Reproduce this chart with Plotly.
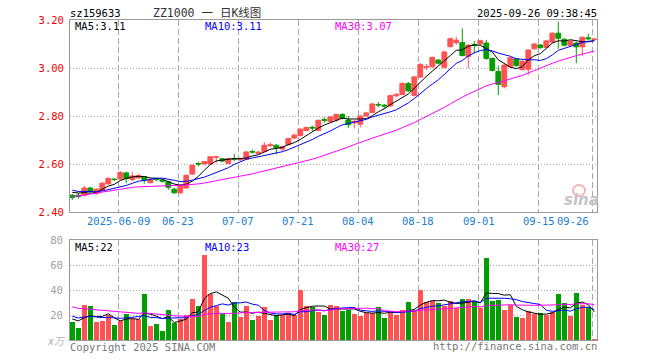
import plotly.graph_objects as go

# ---------------- data ----------------
dates = (
    ["2025-05-27", "2025-05-28", "2025-05-29", "2025-05-30",
     "2025-06-03", "2025-06-04", "2025-06-05", "2025-06-06"]
    + ["2025-06-%02d" % d for d in (9, 10, 11, 12, 13, 16, 17, 18, 19, 20, 23, 24, 25, 26, 27, 30)]
    + ["2025-07-%02d" % d for d in (1, 2, 3, 4, 7, 8, 9, 10, 11, 14, 15, 16, 17, 18,
                                    21, 22, 23, 24, 25, 28, 29, 30, 31)]
    + ["2025-08-%02d" % d for d in (1, 4, 5, 6, 7, 8, 11, 12, 13, 14, 15, 18, 19, 20, 21, 22,
                                    25, 26, 27, 28, 29)]
    + ["2025-09-%02d" % d for d in (1, 2, 3, 4, 5, 8, 9, 10, 11, 12, 15, 16, 17, 18, 19,
                                    22, 23, 24, 25, 26)]
)

open_ = [
    2.470, 2.470, 2.470, 2.500, 2.478, 2.490, 2.517, 2.537, 2.537, 2.563,
    2.535, 2.542, 2.547, 2.522, 2.538, 2.532, 2.526, 2.495, 2.480, 2.500,
    2.558, 2.602, 2.600, 2.600, 2.628, 2.622, 2.602, 2.622, 2.618, 2.620,
    2.652, 2.644, 2.651, 2.676, 2.678, 2.662, 2.680, 2.708, 2.718, 2.740,
    2.753, 2.740, 2.785, 2.777, 2.783, 2.806, 2.783, 2.772, 2.766, 2.800,
    2.815, 2.848, 2.845, 2.842, 2.884, 2.890, 2.935, 2.886, 2.962, 3.003,
    3.005, 3.033, 3.003, 3.089, 3.105, 3.106, 3.048, 3.098, 3.100, 3.104,
    3.040, 2.985, 2.922, 3.005, 3.038, 2.993, 2.995, 3.080, 3.096, 3.086,
    3.108, 3.145, 3.120, 3.095, 3.104, 3.088, 3.126, 3.118]

high = [
    2.475, 2.480, 2.510, 2.505, 2.500, 2.525, 2.545, 2.540, 2.570, 2.568,
    2.567, 2.560, 2.550, 2.540, 2.542, 2.536, 2.530, 2.500, 2.515, 2.556,
    2.598, 2.610, 2.612, 2.632, 2.632, 2.625, 2.626, 2.642, 2.627, 2.655,
    2.660, 2.656, 2.692, 2.690, 2.684, 2.676, 2.710, 2.728, 2.748, 2.756,
    2.760, 2.785, 2.795, 2.800, 2.810, 2.812, 2.800, 2.782, 2.803, 2.818,
    2.855, 2.858, 2.850, 2.888, 2.895, 2.940, 2.942, 2.966, 3.020, 3.017,
    3.048, 3.038, 3.072, 3.127, 3.130, 3.165, 3.100, 3.112, 3.118, 3.117,
    3.044, 3.010, 3.016, 3.046, 3.042, 3.032, 3.078, 3.104, 3.100, 3.116,
    3.148, 3.193, 3.124, 3.116, 3.110, 3.132, 3.143, 3.126]

low = [
    2.450, 2.455, 2.465, 2.480, 2.470, 2.488, 2.515, 2.530, 2.535, 2.520,
    2.530, 2.538, 2.518, 2.520, 2.528, 2.522, 2.492, 2.476, 2.475, 2.498,
    2.555, 2.590, 2.598, 2.598, 2.603, 2.608, 2.600, 2.612, 2.613, 2.618,
    2.643, 2.640, 2.650, 2.672, 2.640, 2.655, 2.678, 2.705, 2.715, 2.736,
    2.737, 2.738, 2.772, 2.774, 2.776, 2.786, 2.750, 2.748, 2.752, 2.797,
    2.812, 2.836, 2.830, 2.838, 2.878, 2.887, 2.900, 2.882, 2.958, 2.990,
    3.000, 3.015, 2.998, 3.085, 3.097, 3.048, 2.999, 3.061, 3.096, 3.034,
    2.986, 2.887, 2.915, 3.000, 3.005, 2.990, 2.970, 3.076, 3.080, 3.083,
    3.105, 3.080, 3.090, 3.090, 3.020, 3.050, 3.115, 3.116]

close = [
    2.460, 2.465, 2.500, 2.485, 2.495, 2.520, 2.540, 2.535, 2.565, 2.540,
    2.550, 2.552, 2.532, 2.535, 2.535, 2.529, 2.503, 2.480, 2.512, 2.553,
    2.595, 2.600, 2.610, 2.630, 2.630, 2.612, 2.623, 2.620, 2.623, 2.650,
    2.650, 2.649, 2.678, 2.680, 2.668, 2.672, 2.706, 2.720, 2.745, 2.752,
    2.750, 2.782, 2.782, 2.796, 2.806, 2.790, 2.764, 2.778, 2.800, 2.813,
    2.850, 2.846, 2.842, 2.885, 2.890, 2.936, 2.905, 2.963, 3.015, 3.006,
    3.044, 3.020, 3.067, 3.122, 3.116, 3.052, 3.095, 3.095, 3.114, 3.040,
    2.990, 2.932, 3.012, 3.043, 3.010, 3.028, 3.075, 3.100, 3.085, 3.113,
    3.145, 3.124, 3.095, 3.112, 3.088, 3.128, 3.122, 3.120]

# volume, 万手
volume = [
    14.1, 9.9, 28.4, 27.0, 14.1, 15.0, 20.3, 12.3, 15.0, 21.1,
    17.1, 17.1, 37.2, 10.9, 13.1, 7.5, 24.3, 14.0, 17.1, 20.3,
    33.2, 27.5, 67.7, 36.9, 27.0, 20.9, 14.8, 30.8, 18.2, 27.0,
    16.3, 19.0, 26.2, 15.8, 19.8, 20.1, 21.4, 20.1, 40.4, 27.0,
    26.2, 22.2, 20.1, 28.4, 27.0, 23.5, 24.3, 21.0, 19.0, 21.6,
    21.6, 26.7, 17.9, 23.5, 19.8, 24.3, 30.8, 24.3, 40.4, 30.8,
    31.4, 30.0, 27.0, 31.6, 26.0, 33.2, 33.2, 30.6, 25.7, 65.3,
    31.6, 32.4, 24.3, 27.8, 18.7, 17.9, 23.5, 20.6, 21.9, 19.8,
    22.4, 37.2, 30.0, 19.0, 38.0, 27.8, 26.7, 1.0]

# sessions before the visible window (needed for the moving averages)
prior_close = [2.34, 2.36, 2.37, 2.38, 2.39, 2.41, 2.42, 2.43,
               2.45, 2.47, 2.48, 2.49, 2.50, 2.49, 2.48, 2.49, 2.50, 2.49,
               2.52, 2.53, 2.52, 2.50, 2.49, 2.50, 2.49, 2.48, 2.49, 2.50, 2.48]
prior_volume = [45, 38, 32, 35, 28, 30, 26, 33, 29, 27, 31, 25, 28, 34, 26, 24, 30, 27,
                25, 33, 24, 20, 22, 19, 20.5, 18, 16, 19, 17.4]

ma_periods = [5, 10, 30]
price_ticks = [2.40, 2.60, 2.80, 3.00, 3.20]
volume_ticks = [20, 40, 60, 80]
tick_dates = ["2025-06-09", "2025-06-23", "2025-07-07", "2025-07-21", "2025-08-04",
              "2025-08-18", "2025-09-01", "2025-09-15", "2025-09-26"]
tick_labels = ["2025-06-09", "06-23", "07-07", "07-21", "08-04",
               "08-18", "09-01", "09-15", "09-26"]
volume_ma_labels = ["MA5:22", "MA10:23", "MA30:27"]

# ---------------- helpers ----------------
def moving_average(series, prior, n):
    full = list(prior) + list(series)
    off = len(prior)
    return [sum(full[off + i - n + 1: off + i + 1]) / n for i in range(len(series))]

RED = "#ff5252"
GREEN = "#009e00"
MA_COLORS = ["#000000", "#0000ff", "#ff00ff"]
GRID = "#a8a8a8"
MONO = "DejaVu Sans Mono"

ML, MR, MT, MB = 70, 63, 20, 20
W, H = 660 - ML - MR, 360 - MT - MB


def px(x):
    return (x - ML) / W


def py(y):
    return 1 - (y - MT) / H


xs = list(range(len(dates)))
fig = go.Figure()

fig.add_trace(go.Candlestick(
    x=xs, open=open_, high=high, low=low, close=close,
    increasing=dict(line=dict(color=RED, width=1), fillcolor=RED),
    decreasing=dict(line=dict(color=GREEN, width=1), fillcolor=GREEN),
    whiskerwidth=0, xaxis="x", yaxis="y", hoverinfo="skip", showlegend=False))

price_ma = [moving_average(close, prior_close, n) for n in ma_periods]
for vals, col in zip(price_ma, MA_COLORS):
    fig.add_trace(go.Scatter(x=xs, y=vals, mode="lines", line=dict(color=col, width=1),
                             xaxis="x", yaxis="y", hoverinfo="skip", showlegend=False))

bar_colors = [RED if c >= o else GREEN for o, c in zip(open_, close)]
fig.add_trace(go.Bar(x=xs, y=volume, width=0.82, marker=dict(color=bar_colors, line=dict(width=0)),
                     xaxis="x2", yaxis="y2", hoverinfo="skip", showlegend=False))

vol_ma = [moving_average(volume, prior_volume, n) for n in ma_periods]
for vals, col in zip(vol_ma, MA_COLORS):
    fig.add_trace(go.Scatter(x=xs, y=vals, mode="lines", line=dict(color=col, width=1),
                             xaxis="x2", yaxis="y2", hoverinfo="skip", showlegend=False))

tick_idx = [dates.index(d) for d in tick_dates]
grid_x = [i - 0.3 for i in tick_idx]
xr = [-0.38, len(dates) - 0.55]

common_x = dict(range=xr, showgrid=True, gridcolor=GRID, griddash="6px,3px", gridwidth=1,
                tickvals=grid_x, showticklabels=False, ticks="", zeroline=False,
                showline=True, mirror=True, linecolor="#9a9a9a", linewidth=1,
                fixedrange=True, automargin=False)

fig.update_layout(
    width=660, height=360, autosize=False,
    margin=dict(l=ML, r=MR, t=MT, b=MB, pad=0),
    paper_bgcolor="white", plot_bgcolor="white",
    boxgap=0.2, boxgroupgap=0.0, bargap=0,
    xaxis=dict(domain=[0, 1], anchor="y", rangeslider=dict(visible=False), **common_x),
    xaxis2=dict(domain=[0, 1], anchor="y2", matches="x", **common_x),
    yaxis=dict(domain=[py(212), 1], range=[2.40, 3.20], tickvals=price_ticks,
               ticktext=["%.2f" % v for v in price_ticks],
               tickfont=dict(family=MONO, size=10.5, color="#ee0000"),
               showgrid=True, gridcolor=GRID, griddash="1px,2px", zeroline=False,
               showline=True, mirror=True, linecolor="#9a9a9a", linewidth=1,
               ticks="", ticklabelstandoff=3, fixedrange=True, automargin=False),
    yaxis2=dict(domain=[0, py(240)], range=[0, 80], tickvals=volume_ticks,
                ticktext=[str(v) for v in volume_ticks],
                tickfont=dict(family=MONO, size=10.5, color="#a0a0a0"),
                showgrid=True, gridcolor=GRID, griddash="1px,2px", zeroline=False,
                showline=True, mirror=True, linecolor="#9a9a9a", linewidth=1,
                ticks="", ticklabelstandoff=4, fixedrange=True, automargin=False),
)

ann = []


def text(x, y, s, color="#000", size=10, xanchor="left", family=MONO, **kw):
    ann.append(dict(x=px(x), y=py(y), xref="paper", yref="paper", text=s, showarrow=False,
                    xanchor=xanchor, yanchor="middle", borderpad=0,
                    font=dict(family=family, size=size, color=color, **kw)))


# header
text(69, 13, "sz159633", size=10.5)
text(207, 12.5, "ZZ1000 一 日K线图", color="#333333", size=11.5, xanchor="center",
     family="DejaVu Sans Mono, Noto Sans CJK SC")
text(597.5, 13, "2025-09-26 09:38:45", size=10.5, xanchor="right")

# price MA legend (values from the data)
legend_x = [74, 203.5, 334]
for n, vals, col, lx in zip(ma_periods, price_ma, MA_COLORS, legend_x):
    text(lx, 26.5, "MA%d:%.2f" % (n, vals[-1]), color=col, size=10.5)
for lab, col, lx in zip(volume_ma_labels, MA_COLORS, legend_x):
    text(lx, 247, lab, color=col, size=10.5)

# date labels
for k, (i, lab) in enumerate(zip(tick_idx, tick_labels)):
    last = k == len(tick_idx) - 1
    ann.append(dict(x=(i - 0.72) if last else (i - 0.3), y=py(221), xref="x", yref="paper",
                    text=lab, showarrow=False, xanchor="right" if last else "center",
                    yanchor="middle", borderpad=0,
                    font=dict(family=MONO, size=10.5, color="#1a80d0")))

# footer
text(56, 341, "x万", color="#b0b0b0", size=10, xanchor="center", style="italic",
     family="DejaVu Sans Mono, Noto Sans CJK SC")
text(69, 346.5, "Copyright 2025 SINA.COM", color="#777777", size=10.5)
text(597.5, 346, "http://finance.sina.com.cn", color="#777777", size=10.5, xanchor="right")

# sina watermark
text(581, 200, "sina", color="#c4c4c4", size=15, xanchor="center", weight="bold",
     style="italic", family="DejaVu Sans")

fig.update_layout(annotations=ann)
fig.add_shape(type="circle", xref="paper", yref="paper",
              x0=px(573), x1=px(585), y0=py(196), y1=py(185),
              line=dict(color="#f2b8b8", width=2))

fig.write_html("out.html", config={"displayModeBar": False, "staticPlot": True},
               post_script="document.body.style.margin='0';"
               "document.body.style.overflow='hidden';")
